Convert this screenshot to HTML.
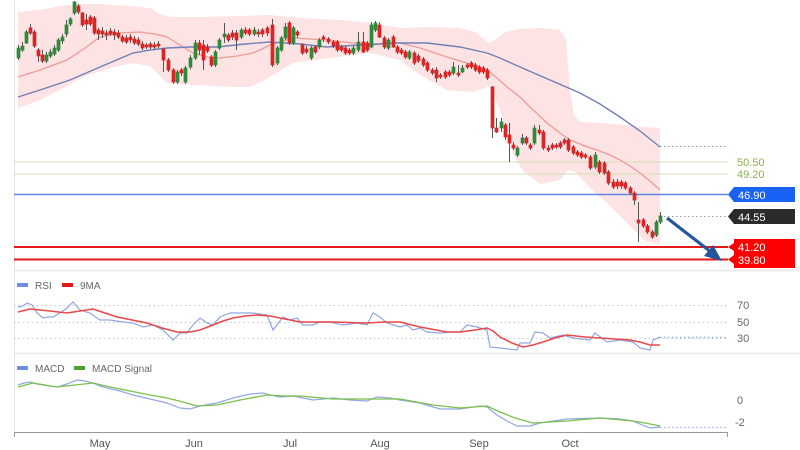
<!DOCTYPE html>
<html><head><meta charset="utf-8"><style>
html,body{margin:0;padding:0;background:#fff;}
svg{display:block;font-family:"Liberation Sans",Arial,sans-serif;}
</style></head><body>
<svg width="800" height="450" viewBox="0 0 800 450" xmlns="http://www.w3.org/2000/svg">
<rect width="800" height="450" fill="#fff"/>
<!-- frame -->
<line x1="14.5" y1="0" x2="14.5" y2="432" stroke="#e2e2e2" stroke-width="1"/>
<line x1="14" y1="270.5" x2="800" y2="270.5" stroke="#ececec" stroke-width="2"/>
<line x1="14" y1="353.5" x2="800" y2="353.5" stroke="#ececec" stroke-width="2"/>

<!-- bollinger band -->
<polygon fill="#fde3e3" points="18,12 40,10 60,6 80,4 100,4 130,6 150,8 160,14 170,17 200,17 240,16 270,15 300,18 340,20 370,23 400,28 430,27 460,28 475,32 485,40 490,43 497,38 505,32 520,29 540,28 560,30 566,40 570,90 574,115 580,122 600,123 625,125 645,127 660,128 660,244 645,241 630,226 610,206 590,188 575,172 568,170 560,180 540,184 523,171 513,154 500,110 490,86 473,92 447,90 420,75 400,60 370,53 330,58 293,63 265,80 250,87 233,87 193,85 167,83 150,66 133,63 110,68 83,77 60,90 40,100 18,108"/>

<!-- horizontal levels -->
<line x1="14" y1="162" x2="728" y2="162" stroke="#cfe0b4" stroke-width="1"/>
<line x1="14" y1="174" x2="728" y2="174" stroke="#cfe0b4" stroke-width="1"/>
<line x1="14" y1="194.5" x2="728" y2="194.5" stroke="#5b86ec" stroke-width="1.5"/>
<line x1="14" y1="247" x2="728" y2="247" stroke="#e31a1a" stroke-width="2"/>
<line x1="14" y1="259.5" x2="728" y2="259.5" stroke="#e31a1a" stroke-width="2"/>
<line x1="660" y1="146.5" x2="728" y2="146.5" stroke="#8a96c0" stroke-width="1" stroke-dasharray="1.5,2.5"/>
<line x1="664" y1="216.5" x2="728" y2="216.5" stroke="#999" stroke-width="1" stroke-dasharray="1.5,2.5"/>

<!-- moving averages -->
<polyline fill="none" stroke="#ef9a94" stroke-width="1.3" points="18,77 40,70 67,60 85,48 100,37 120,33 140,32 155,34 167,37 180,45 193,53 207,57 220,58 237,56 253,53 262,49 270,45 293,38 327,40 370,45 400,43 420,48 447,57 470,64 487,70 497,78 507,87 520,97 530,107 547,123 560,133 570,140 585,146 597,150 610,155 620,160 630,166 640,173 650,181 660,190"/>
<polyline fill="none" stroke="#6f80b8" stroke-width="1.4" points="18,97 40,90 70,80 100,67 133,53 150,50 167,48 190,47 217,47 245,44 270,42 300,44 327,47 360,45 393,43 427,43 460,47 487,53 500,58 520,67 550,80 580,93 600,104 620,117 640,131 660,147"/>

<!-- wicks -->
<path fill="none" stroke="#555" stroke-width="1" d="M18.5 45V60M22.5 42V52M26.5 30V44M30.5 24V35M34.5 30V48M38.5 48V62M42.5 50V63M46.5 52V63M50.5 49V58M54.5 45V56M58.5 38V52M62.5 34V44M66.5 20V37M70.5 17V26M74.5 1V15M78.5 4V14M82.5 12V27M86.5 14V30M90.5 15V26M94.5 16V35M98.5 28V40M102.5 27V38M106.5 30V40M110.5 28V36M114.5 29V40M118.5 30V39M122.5 35V43M126.5 35V44M130.5 34V43M134.5 36V45M138.5 37V46M142.5 41V50M146.5 43V49M150.5 42V49M154.5 42V49M158.5 41V48M163.5 48V72M168.5 58V72M173.5 68V84M177.5 70V84M181.5 68V76M185.5 66V84M190.5 55V69M195.5 40V60M199.5 40V55M203.5 40V70M207.5 44V53M211.5 55V67M215.5 50V67M219.5 38V50M224.5 23V43M228.5 33V42M232.5 30V40M236.5 30V50M241.5 28V39M245.5 27V35M249.5 28V36M254.5 27V36M258.5 29V37M262.5 28V37M267.5 26V36M272.5 19V67M277.5 46V65M281.5 36V52M285.5 23V40M289.5 21V45M293.5 26V45M297.5 30V38M302.5 43V55M306.5 46V54M311.5 46V60M315.5 45V54M319.5 38V49M323.5 35V42M328.5 37V44M333.5 40V48M337.5 40V52M341.5 45V52M345.5 46V55M349.5 48V55M353.5 46V55M358.5 32V52M363.5 32V53M367.5 41V52M371.5 22V48M375.5 21V32M379.5 22V38M384.5 36V49M388.5 38V50M393.5 35V48M397.5 45V54M401.5 48V55M405.5 50V59M409.5 50V60M414.5 51V65M418.5 54V63M423.5 57V67M427.5 61V72M432.5 68V75M436.5 67V82M440.5 73V79M445.5 70V79M449.5 70V77M453.5 62V75M458.5 65V77M462.5 65V73M467.5 63V69M471.5 61V69M475.5 63V72M479.5 65V74M483.5 66V74M487.5 68V80M492.5 86V138M496.5 118V133M501.5 118V132M505.5 123V140M509.5 123V162M513.5 142V150M517.5 146V157M522.5 134V145M526.5 136V145M530.5 143V150M534.5 125V145M539.5 125V135M543.5 130V150M548.5 145V152M552.5 143V150M556.5 143V149M560.5 141V149M564.5 138V145M568.5 138V152M573.5 145V155M577.5 150V157M581.5 151V159M585.5 153V159M590.5 155V170M595.5 152V169M599.5 160V174M604.5 161V175M608.5 170V185M613.5 179V189M617.5 179V189M621.5 180V189M625.5 181V190M630.5 186V195M634.5 191V205M638.5 202V242M643.5 218V228M647.5 224V234M652.5 230V239M656.5 220V237M660.5 212V224"/>

<!-- green bodies -->
<path fill="#2f8a3a" stroke="#2f8a3a" stroke-width="0.7" d="M17 48h3v10h-3zM21 46h3v4h-3zM25 32h3v11h-3zM45 55h3v6h-3zM49 52h3v4h-3zM53 48h3v6h-3zM57 40h3v10h-3zM61 37h3v4h-3zM65 25h3v9h-3zM69 19h3v5h-3zM73 2h3v11h-3zM176 72h3v10h-3zM184 68h3v14h-3zM189 58h3v9h-3zM194 43h3v15h-3zM214 52h3v13h-3zM218 40h3v8h-3zM223 34h3v3h-3zM240 30h3v7h-3zM253 30h3v4h-3zM276 48h3v15h-3zM280 38h3v12h-3zM284 27h3v11h-3zM292 28h3v15h-3zM310 48h3v10h-3zM318 40h3v7h-3zM352 48h3v5h-3zM357 42h3v8h-3zM370 25h3v22h-3zM374 23h3v7h-3zM387 40h3v8h-3zM408 52h3v6h-3zM452 67h3v6h-3zM461 68h3v4h-3zM500 122h3v6h-3zM516 148h3v7h-3zM521 138h3v5h-3zM533 128h3v15h-3zM594 155h3v12h-3zM655 222h3v13h-3zM659 216h3v6h-3z"/>

<!-- red bodies -->
<path fill="#d82626" stroke="#d82626" stroke-width="0.7" d="M29 28h3v5h-3zM33 32h3v14h-3zM37 50h3v6h-3zM41 55h3v6h-3zM77 6h3v6h-3zM81 13h3v12h-3zM85 20h3v4h-3zM89 17h3v7h-3zM93 18h3v15h-3zM97 30h3v4h-3zM101 31h3v3h-3zM105 33h3v2h-3zM109 31h3v3h-3zM113 32h3v3h-3zM117 33h3v4h-3zM121 37h3v4h-3zM125 38h3v4h-3zM129 37h3v3h-3zM133 39h3v4h-3zM137 40h3v4h-3zM141 44h3v4h-3zM145 45h3v2h-3zM149 44h3v3h-3zM153 45h3v2h-3zM157 44h3v2h-3zM162 49h3v11h-3zM167 60h3v10h-3zM172 70h3v12h-3zM180 70h3v3h-3zM198 43h3v7h-3zM202 45h3v15h-3zM206 47h3v4h-3zM210 57h3v8h-3zM227 35h3v5h-3zM231 33h3v4h-3zM235 33h3v7h-3zM244 30h3v3h-3zM248 30h3v4h-3zM257 32h3v2h-3zM261 30h3v4h-3zM266 28h3v5h-3zM271 25h3v40h-3zM288 23h3v20h-3zM296 32h3v3h-3zM301 45h3v8h-3zM305 49h3v3h-3zM314 47h3v5h-3zM322 37h3v2h-3zM327 39h3v3h-3zM332 42h3v4h-3zM336 42h3v8h-3zM340 47h3v3h-3zM344 48h3v5h-3zM348 50h3v3h-3zM362 42h3v10h-3zM366 43h3v7h-3zM378 25h3v12h-3zM383 38h3v9h-3zM392 37h3v10h-3zM396 47h3v5h-3zM400 50h3v3h-3zM404 52h3v5h-3zM413 53h3v10h-3zM417 56h3v5h-3zM422 59h3v6h-3zM426 63h3v7h-3zM431 70h3v3h-3zM435 70h3v8h-3zM439 75h3v2h-3zM444 72h3v5h-3zM448 72h3v3h-3zM457 73h3v2h-3zM466 65h3v2h-3zM470 63h3v4h-3zM474 65h3v5h-3zM478 67h3v5h-3zM482 68h3v4h-3zM486 70h3v8h-3zM491 87h3v41h-3zM495 128h3v4h-3zM504 125h3v12h-3zM508 135h3v8h-3zM512 145h3v3h-3zM525 138h3v5h-3zM529 145h3v3h-3zM538 130h3v3h-3zM542 132h3v16h-3zM547 148h3v2h-3zM551 145h3v3h-3zM555 145h3v2h-3zM559 143h3v4h-3zM563 140h3v3h-3zM567 140h3v10h-3zM572 147h3v6h-3zM576 152h3v3h-3zM580 153h3v4h-3zM584 155h3v2h-3zM589 157h3v11h-3zM598 162h3v10h-3zM603 163h3v10h-3zM607 172h3v11h-3zM612 182h3v5h-3zM616 182h3v4h-3zM620 182h3v4h-3zM624 183h3v5h-3zM629 188h3v5h-3zM633 193h3v7h-3zM637 220h3v3h-3zM642 220h3v6h-3zM646 226h3v6h-3zM651 232h3v5h-3z"/>

<!-- arrow -->
<line x1="667" y1="218" x2="711" y2="252" stroke="#24579a" stroke-width="3.2"/>
<polygon fill="#24579a" points="722,261 704,256 713,245"/>

<!-- right labels main -->
<text x="737" y="166" font-size="11" fill="#8ab34a">50.50</text>
<text x="737" y="178" font-size="11" fill="#8ab34a">49.20</text>
<polygon fill="#1a62f5" points="728,194.5 734,187 795,187 795,202 734,202"/>
<text x="738" y="199" font-size="11" fill="#fff">46.90</text>
<polygon fill="#2b2b2b" points="728,216.5 734,209 795,209 795,224 734,224"/>
<text x="738" y="221" font-size="11" fill="#fff">44.55</text>
<polygon fill="#ff0000" points="734,239 795,239 795,268 734,268 734,264 728,259.5 734,255 734,251 728,247 734,243"/>
<text x="738" y="251" font-size="11" fill="#fff">41.20</text>
<text x="738" y="264" font-size="11" fill="#fff">39.80</text>

<!-- RSI panel -->
<rect x="17" y="283" width="11" height="4" fill="#6b8fe0"/>
<text x="35" y="289" font-size="10" fill="#666">RSI</text>
<rect x="62" y="283" width="11" height="4" fill="#e01818"/>
<text x="80" y="289" font-size="10" fill="#666">9MA</text>
<g stroke="#c8c8c8" stroke-width="1" stroke-dasharray="1.5,3">
<line x1="14" y1="305.5" x2="728" y2="305.5"/>
<line x1="14" y1="322.5" x2="728" y2="322.5"/>
<line x1="14" y1="338.5" x2="728" y2="338.5"/>
</g>
<line x1="660" y1="337.5" x2="728" y2="337.5" stroke="#9aaed8" stroke-width="1.5" stroke-dasharray="1.5,2.5"/>
<text x="737" y="309" font-size="11" fill="#666">70</text>
<text x="737" y="326" font-size="11" fill="#666">50</text>
<text x="737" y="342" font-size="11" fill="#666">30</text>
<polyline fill="none" stroke="#8fa6e0" stroke-width="1.2" points="18,307 23,306 27,303 32,305 37,313 43,318 48,317 53,317 60,313 67,308 73,302 80,310 90,313 100,320 110,320 123,322 133,323 143,327 153,325 163,330 173,340 180,333 187,333 193,325 200,318 207,323 213,325 220,317 230,313 240,313 253,313 267,315 273,330 283,317 290,320 297,318 303,325 313,325 320,322 330,322 343,325 357,323 367,325 373,313 380,317 387,323 400,327 407,325 413,330 420,328 427,332 440,333 450,332 460,332 467,325 477,327 487,330 490,347 500,348 517,350 520,343 530,343 535,332 543,333 550,338 563,335 573,338 590,340 595,333 607,342 620,340 633,342 640,348 650,350 653,340 660,337"/>
<polyline fill="none" stroke="#e8484a" stroke-width="1.5" points="18,312 30,309 50,311 67,313 80,311 93,309 105,313 117,317 132,320 147,323 162,328 177,332 190,332 200,330 213,325 223,321 233,318 245,316 257,315 270,316 280,318 300,322 333,322 367,323 385,322 400,322 420,327 447,332 460,332 475,330 487,328 493,331 500,337 512,343 523,347 533,345 543,342 555,338 567,335 585,337 600,338 630,340 640,342 650,345 660,345"/>

<!-- MACD panel -->
<rect x="17" y="366" width="11" height="4" fill="#6b8fe0"/>
<text x="35" y="372" font-size="10" fill="#666">MACD</text>
<rect x="74" y="366" width="11" height="4" fill="#4aa02c"/>
<text x="92" y="372" font-size="10" fill="#666">MACD Signal</text>
<text x="737" y="404" font-size="11" fill="#666">0</text>
<text x="735" y="426" font-size="11" fill="#666">-2</text>
<line x1="660" y1="427.5" x2="728" y2="427.5" stroke="#9aaed8" stroke-width="1.3" stroke-dasharray="1.5,2.5"/>
<polyline fill="none" stroke="#92a8e2" stroke-width="1.2" points="18,385 24,383 30,382 37,384 43,385 50,386 57,387 67,384 77,380 85,381 93,383 100,386 107,388 120,391 133,395 150,399 167,403 180,408 190,409 200,406 217,403 233,398 250,394 263,393 270,395 280,397 293,396 313,400 333,398 350,400 367,401 377,397 390,398 400,400 420,403 440,409 460,409 480,406 487,407 497,415 507,421 517,426 530,426 540,423 567,419 600,418 620,419 633,421 640,424 650,428 660,427"/>
<polyline fill="none" stroke="#7cbf4a" stroke-width="1.3" points="18,387 33,383 45,385 57,387 75,385 93,383 110,387 130,391 150,395 167,398 183,402 197,406 217,405 240,400 267,395 285,396 300,396 333,399 367,399 400,399 433,405 460,408 487,406 500,412 515,418 533,423 550,422 567,421 600,418 633,421 645,423 660,426"/>

<!-- x axis -->
<line x1="14" y1="432.5" x2="728" y2="432.5" stroke="#999" stroke-width="1"/>
<line x1="14.5" y1="432" x2="14.5" y2="437" stroke="#999" stroke-width="1"/>
<line x1="727.5" y1="432" x2="727.5" y2="437" stroke="#999" stroke-width="1"/>
<g font-size="11" fill="#555" text-anchor="middle">
<text x="100" y="447">May</text>
<text x="194" y="447">Jun</text>
<text x="290" y="447">Jul</text>
<text x="380" y="447">Aug</text>
<text x="479" y="447">Sep</text>
<text x="570" y="447">Oct</text>
</g>
</svg>
</body></html>
